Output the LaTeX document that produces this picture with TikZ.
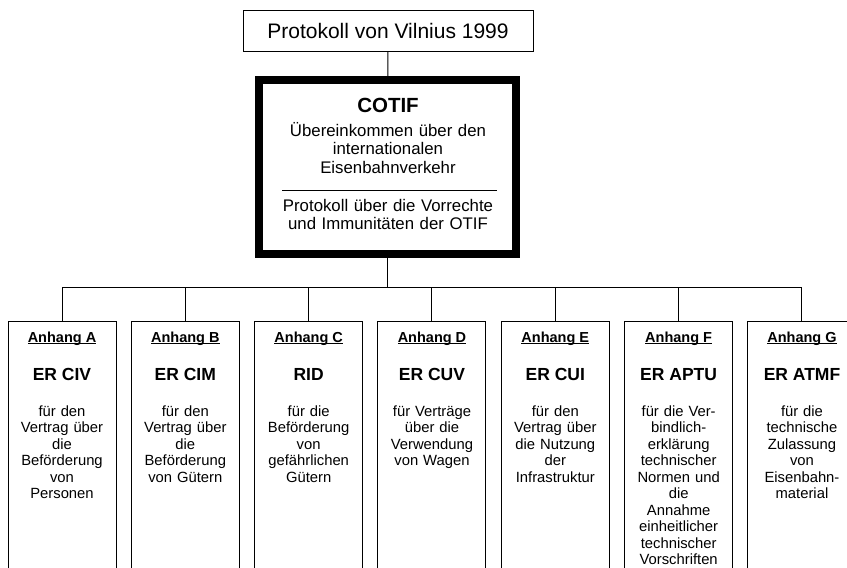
\documentclass[tikz,border=0pt]{standalone}
\usepackage{fontspec}
\setmainfont{Liberation Sans}
\usetikzlibrary{positioning}
\newcommand\anhul[1]{\setbox0\hbox{#1}\rlap{\rule[-2.3pt]{\wd0}{1pt}}\box0}

\begin{document}
\begin{tikzpicture}[x=1pt,y=-1pt,line width=1pt,
  framebox/.style={draw,inner sep=0pt},
  annbox/.style={framebox,minimum width=108pt,minimum height=300pt,anchor=north},
  txt/.style={inner sep=0pt,anchor=base,align=center},
  anhfont/.style={font=\fontsize{14.5}{17}\selectfont\bfseries},
  titlefont/.style={font=\fontsize{17.5}{21}\selectfont\bfseries},
  bodyfont/.style={font=\fontsize{14.8}{16.5}\selectfont,text width=106pt}]
\clip (0,0) rectangle (847,568);
% Protocol and convention
\node[framebox,minimum width=290pt,minimum height=41pt,font=\fontsize{21}{25}\selectfont] (vilnius) at (388,30.5) {Protokoll von Vilnius 1999};
\node[framebox,line width=7.5pt,minimum width=257pt,minimum height=174pt] (cotif) at (387.5,167) {};
\node[txt,font=\fontsize{20.5}{24}\selectfont\bfseries] (cotiftitle) at (388,112) {COTIF};
\node[txt,font=\fontsize{16.8}{18.5}\selectfont,text width=240pt] (cotifbody) at (388,136) {Übereinkommen über den\\internationalen\\Eisenbahnverkehr};
\draw (282,190)--(497,190);
\node[txt,font=\fontsize{16.8}{18.5}\selectfont,text width=240pt] (privileges) at (388,211) {Protokoll über die Vorrechte\\und Immunitäten der OTIF};
\draw (vilnius)--(cotif);
\coordinate (bus) at (387.5,287);
\draw (cotif)--(bus);
% Appendices
\foreach \lt/\ti/\bd [count=\k from 0] in {
  A/ER CIV/{für den\\Vertrag über\\die\\Beförderung\\von\\Personen},
  B/ER CIM/{für den\\Vertrag über\\die\\Beförderung\\von Gütern},
  C/RID/{für die\\Beförderung\\von\\gefährlichen\\Gütern},
  D/ER CUV/{für Verträge\\über die\\Verwendung\\von Wagen},
  E/ER CUI/{für den\\Vertrag über\\die Nutzung\\der\\Infrastruktur},
  F/ER APTU/{für die Ver-\\bindlich-\\erklärung\\technischer\\Normen und\\die\\Annahme\\einheitlicher\\technischer\\Vorschriften},
  G/ER ATMF/{für die\\technische\\Zulassung\\von\\Eisenbahn-\\material}}{
  \pgfmathsetmacro\xc{62+123.33*\k}
  \node[annbox] (ann\lt) at (\xc,321) {};
  \node[txt,anhfont] (anh\lt) at (\xc,342) {\anhul{Anhang \lt}};
  \node[txt,titlefont] (er\lt) at (\xc,380) {\ti};
  \node[txt,bodyfont] (body\lt) at (\xc,416) {\bd};
  \draw (ann\lt.north) |- (bus);
}
\end{tikzpicture}
\end{document}
